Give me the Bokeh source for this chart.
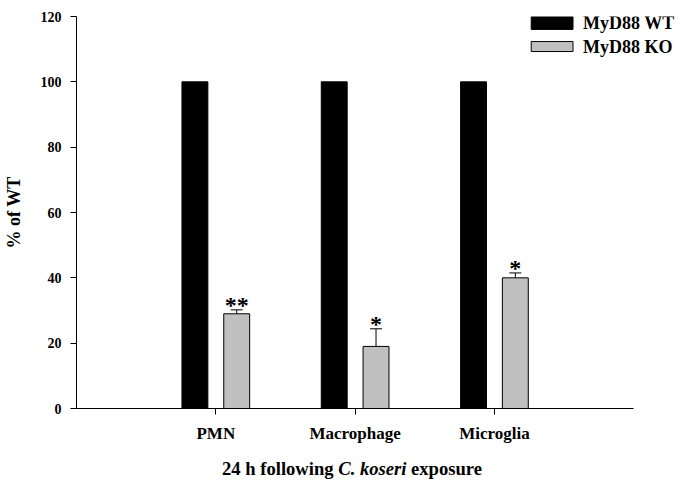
from bokeh.plotting import figure
from bokeh.layouts import column
from bokeh.models import ColumnDataSource, Range1d, FixedTicker, Whisker, TeeHead, Div
from bokeh.transform import dodge
from bokeh.core.properties import value
from bokeh.embed import file_html
from bokeh.resources import INLINE

categories = ["PMN", "Macrophage", "Microglia"]
wt_values = [100, 100, 100]
ko_values = [29, 19, 40]
ko_errors = [1.2, 5.4, 1.5]
significance = ["**", "*", "*"]
y_ticks = [0, 20, 40, 60, 80, 100, 120]
series_names = ["MyD88 WT", "MyD88 KO"]
x_title_parts = ["24 h following ", "C. koseri", " exposure"]
y_title = "% of WT"

FONT = "Liberation Serif"
positions = list(range(len(categories)))

src = ColumnDataSource(dict(
    x=positions,
    wt=wt_values,
    ko=ko_values,
    upper=[k + e for k, e in zip(ko_values, ko_errors)],
    star_y=[k + e + 1.4 for k, e in zip(ko_values, ko_errors)],
    star=significance,
))

p = figure(width=683, height=452, output_backend="svg", toolbar_location=None,
           x_range=Range1d(-1, -1 + 610 / 140), y_range=Range1d(0, 120),
           min_border_left=73, min_border_right=0, min_border_top=16, min_border_bottom=44)
p.outline_line_color = None
p.xgrid.grid_line_color = None
p.ygrid.grid_line_color = None

bw = 0.186
p.vbar(x=dodge("x", -0.15), top="wt", width=bw, source=src,
       fill_color="black", line_color="black")
p.vbar(x=dodge("x", 0.15), top="ko", width=bw, source=src,
       fill_color="#c0c0c0", line_color="black", line_width=1)

wh = Whisker(base=dodge("x", 0.15), lower="ko", upper="upper", source=src,
             line_color="black", line_width=1,
             upper_head=TeeHead(size=12, line_color="black", line_width=1), lower_head=None)
p.add_layout(wh)

p.text(x=dodge("x", 0.15), y="star_y", text="star", source=src,
       text_font=value(FONT), text_font_style="bold", text_font_size="24px",
       text_align="center", text_baseline="alphabetic", text_color="black")

for ax in (p.xaxis, p.yaxis):
    ax.axis_line_color = "black"
    ax.axis_line_width = 1
    ax.major_tick_line_color = "black"
    ax.major_tick_out = 6
    ax.major_tick_in = 0
    ax.minor_tick_line_color = None
    ax.major_label_text_font = FONT
    ax.major_label_text_font_style = "bold"
    ax.major_label_text_color = "black"
p.xaxis.bounds = (-1, 3)
p.xaxis.ticker = FixedTicker(ticks=positions)
p.xaxis.major_label_overrides = {i: c for i, c in zip(positions, categories)}
p.xaxis.major_label_text_font_size = "17px"
p.xaxis.major_label_standoff = 9
p.yaxis.ticker = FixedTicker(ticks=y_ticks)
p.yaxis.major_label_text_font_size = "14px"
p.yaxis.major_label_standoff = 9
p.yaxis.axis_label = y_title
p.yaxis.axis_label_text_font = FONT
p.yaxis.axis_label_text_font_style = "bold"
p.yaxis.axis_label_text_font_size = "18px"
p.yaxis.axis_label_text_color = "black"
p.yaxis.axis_label_standoff = 14

# legend (swatches + labels)
leg_x = 2.414
leg_w = 0.3
p.rect(x=[leg_x], y=[118.0], width=leg_w, height=3.9, fill_color="black", line_color="black")
p.rect(x=[leg_x], y=[110.8], width=leg_w, height=3.06, fill_color="#c0c0c0", line_color="black")
p.text(x=[2.636, 2.636], y=[118.0, 110.8], text=series_names,
       text_font=value(FONT), text_font_style="bold", text_font_size="18px",
       text_baseline="middle", text_align="left", text_color="black")

title_html = "{}<i>{}</i>{}".format(*x_title_parts).replace(" ", "&nbsp;")
div = Div(text=title_html, width=683, height=32, margin=0,
          styles={"font-family": FONT, "font-weight": "bold", "font-size": "18.6px",
                  "line-height": "22px", "padding-top": "6px", "padding-left": "222px",
                  "color": "black", "white-space": "nowrap"})

layout = column(p, div, spacing=0)
open("out.html", "w").write(file_html(layout, INLINE))
